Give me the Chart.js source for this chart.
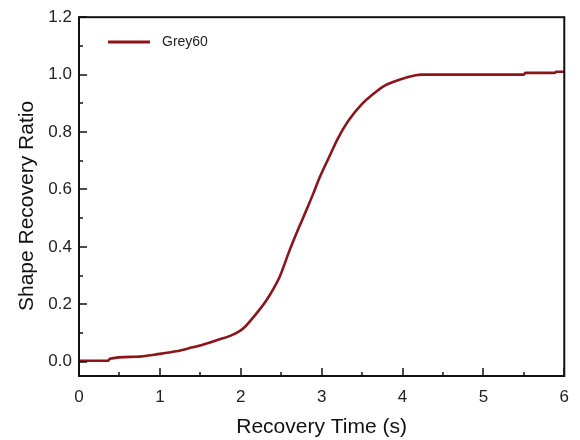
<!DOCTYPE html>
<html>
<head>
<meta charset="utf-8">
<script src="https://cdn.jsdelivr.net/npm/chart.js@4"></script>
<style>
	html, body { margin: 0; padding: 0; background: #fff; }
	#wrap { width: 580px; height: 440px; }
</style>
</head>
<body>
<div id="wrap"><canvas id="myChart" width="580" height="440"></canvas></div>
<script>
const seriesName = 'Grey60'
const yTitle = 'Shape Recovery Ratio'
const time = [0, 0.36, 0.38, 0.7, 1.0, 1.2, 1.39, 1.55, 1.72, 1.86, 1.96, 2.04, 2.12, 2.22, 2.32, 2.4, 2.48, 2.6, 2.72, 2.81, 2.9, 2.97, 3.09, 3.2, 3.33, 3.5, 3.64, 3.78, 3.9, 4.03, 4.23, 4.6, 5.0, 5.5, 5.52, 5.88, 5.9, 6.0]
const ratio = [0.003, 0.003, 0.01, 0.017, 0.027, 0.036, 0.049, 0.061, 0.076, 0.089, 0.102, 0.118, 0.143, 0.177, 0.215, 0.252, 0.295, 0.385, 0.468, 0.527, 0.588, 0.638, 0.711, 0.777, 0.839, 0.898, 0.933, 0.962, 0.976, 0.988, 1.0, 1.0, 1.0, 1.0, 1.006, 1.006, 1.01, 1.01]
const xTicks = [0, 1, 2, 3, 4, 5, 6]
const yTicks = [0, 0.2, 0.4, 0.6, 0.8, 1.0, 1.2]
const xMinor = [0.5, 1.5, 2.5, 3.5, 4.5, 5.5]
const yMinor = [0.1, 0.3, 0.5, 0.7, 0.9, 1.1]

const lineColor = '#8b1519'
const fontFamily = '"Liberation Sans", Arial, sans-serif'
const ctx = document.getElementById('myChart')

// frame, inward ticks, y title and the legend inside the plot
const framePlugin = {
	id: 'frame',
	afterDraw(chart) {
		const c = chart.ctx
		const a = chart.chartArea
		const xs = chart.scales.x
		const ys = chart.scales.y
		c.save()
		c.strokeStyle = '#111'
		c.lineWidth = 2
		c.strokeRect(a.left, a.top, a.right - a.left, a.bottom - a.top)

		const tick = (px, len, vertical) => {
			c.beginPath()
			if (vertical) {
				c.moveTo(px, a.bottom)
				c.lineTo(px, a.bottom - len)
			} else {
				c.moveTo(a.left, px)
				c.lineTo(a.left + len, px)
			}
			c.stroke()
		}
		c.lineWidth = 1.5
		xTicks.forEach(v => tick(Math.round(xs.getPixelForValue(v)), 8, true))
		xMinor.forEach(v => tick(Math.round(xs.getPixelForValue(v)), 4, true))
		yTicks.forEach(v => tick(Math.round(ys.getPixelForValue(v)), 8, false))
		yMinor.forEach(v => tick(Math.round(ys.getPixelForValue(v)), 4, false))

		// y axis title
		c.save()
		c.translate(27, 206)
		c.rotate(-Math.PI / 2)
		c.fillStyle = '#111'
		c.font = '21px ' + fontFamily
		c.textAlign = 'center'
		c.textBaseline = 'middle'
		c.fillText(yTitle, 0, 0)
		c.restore()

		// legend
		const ds = chart.data.datasets[0]
		c.strokeStyle = ds.borderColor
		c.lineWidth = 3
		c.beginPath()
		c.moveTo(108, 42)
		c.lineTo(150, 42)
		c.stroke()
		c.fillStyle = '#222'
		c.font = '14px ' + fontFamily
		c.textBaseline = 'middle'
		c.fillText(ds.label, 162, 42)
		c.restore()
	},
}

new Chart(ctx, {
	type: 'line',
	data: {
		datasets: [
			{
				label: seriesName,
				data: time.map((t, i) => ({ x: t, y: ratio[i] })),
				borderColor: lineColor,
				backgroundColor: lineColor,
				borderWidth: 2.6,
				pointRadius: 0,
				cubicInterpolationMode: 'monotone',
				fill: false,
			},
		],
	},
	options: {
		responsive: false,
		animation: false,
		layout: {
			padding: { top: 16, right: 8, left: 0, bottom: 0 },
		},
		plugins: {
			legend: { display: false },
			tooltip: { enabled: false },
		},
		scales: {
			x: {
				type: 'linear',
				min: 0,
				max: 6,
				afterBuildTicks: (s) => { s.ticks = xTicks.map(v => ({ value: v })) },
				afterFit: (s) => { s.height = 64 },
				grid: { display: false, drawTicks: false },
				border: { display: false },
				ticks: {
					color: '#222',
					padding: 11,
					font: { family: fontFamily, size: 17 },
				},
				title: {
					display: true,
					text: 'Recovery Time (s)',
					color: '#111',
					padding: 0,
					font: { family: fontFamily, size: 21 },
				},
			},
			y: {
				type: 'linear',
				min: -0.05,
				max: 1.2,
				afterBuildTicks: (s) => { s.ticks = yTicks.map(v => ({ value: v })) },
				afterFit: (s) => { s.width = 79 },
				grid: { display: false, drawTicks: false },
				border: { display: false },
				ticks: {
					color: '#222',
					padding: 7,
					callback: (v) => v.toFixed(1),
					font: { family: fontFamily, size: 17 },
				},
			},
		},
	},
	plugins: [framePlugin],
})
</script>
</body>
</html>
